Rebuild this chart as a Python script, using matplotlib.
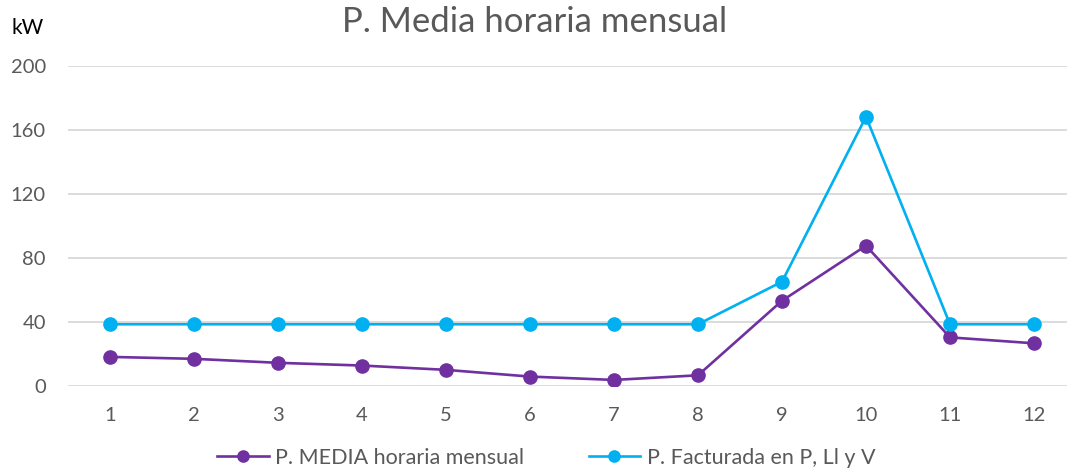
import matplotlib
matplotlib.use("Agg")
import matplotlib.pyplot as plt

months = [1, 2, 3, 4, 5, 6, 7, 8, 9, 10, 11, 12]
p_media = [18.0, 16.8, 14.3, 12.6, 9.9, 5.7, 3.6, 6.5, 53.1, 87.5, 30.2, 26.5]
p_facturada = [38.4, 38.4, 38.4, 38.4, 38.4, 38.4, 38.4, 38.4, 65.0, 168.1, 38.4, 38.4]
yticks = [0, 40, 80, 120, 160, 200]

plt.rcParams['font.family'] = ['Lato', 'DejaVu Sans']

fig = plt.figure(figsize=(10.67, 4.73), dpi=100)
ax = fig.add_axes([68/1067, 87.3/473, 1008/1067, 320/473])

ax.plot(months, p_media, color='#7030A0', lw=1.9, marker='o', ms=9.5,
        label='P. MEDIA horaria mensual', zorder=3)
ax.plot(months, p_facturada, color='#00B0F0', lw=1.9, marker='o', ms=9.5,
        label='P. Facturada en P, Ll y V', zorder=3)

ax.set_xlim(0.5, 12.5)
ax.set_ylim(0, 200)
ax.set_yticks(yticks)
ax.set_xticks(months)
ax.grid(axis='y', color='#D9D9D9', lw=1.3)
ax.set_axisbelow(True)
for s in ax.spines.values():
    s.set_visible(False)
ax.tick_params(length=0, labelsize=14.5, colors='#595959')
ax.tick_params(axis='x', pad=15)
ax.tick_params(axis='y', pad=16)

fig.text(535/1067, 1 - 22/473, 'P. Media horaria mensual', ha='center', va='center',
         fontsize=25, color='#595959')
fig.text(28/1067, 1 - 28/473, 'kW', ha='center', va='center', fontsize=15, color='#000000')

leg = fig.legend(loc='center', bbox_to_anchor=(546/1067, 1 - 458/473), ncol=2,
                 frameon=False, fontsize=15.5, handlelength=2.4, columnspacing=3.0,
                 handletextpad=0.3, markerscale=0.85)
for t in leg.get_texts():
    t.set_color('#595959')

fig.savefig('out.png', dpi=100)
